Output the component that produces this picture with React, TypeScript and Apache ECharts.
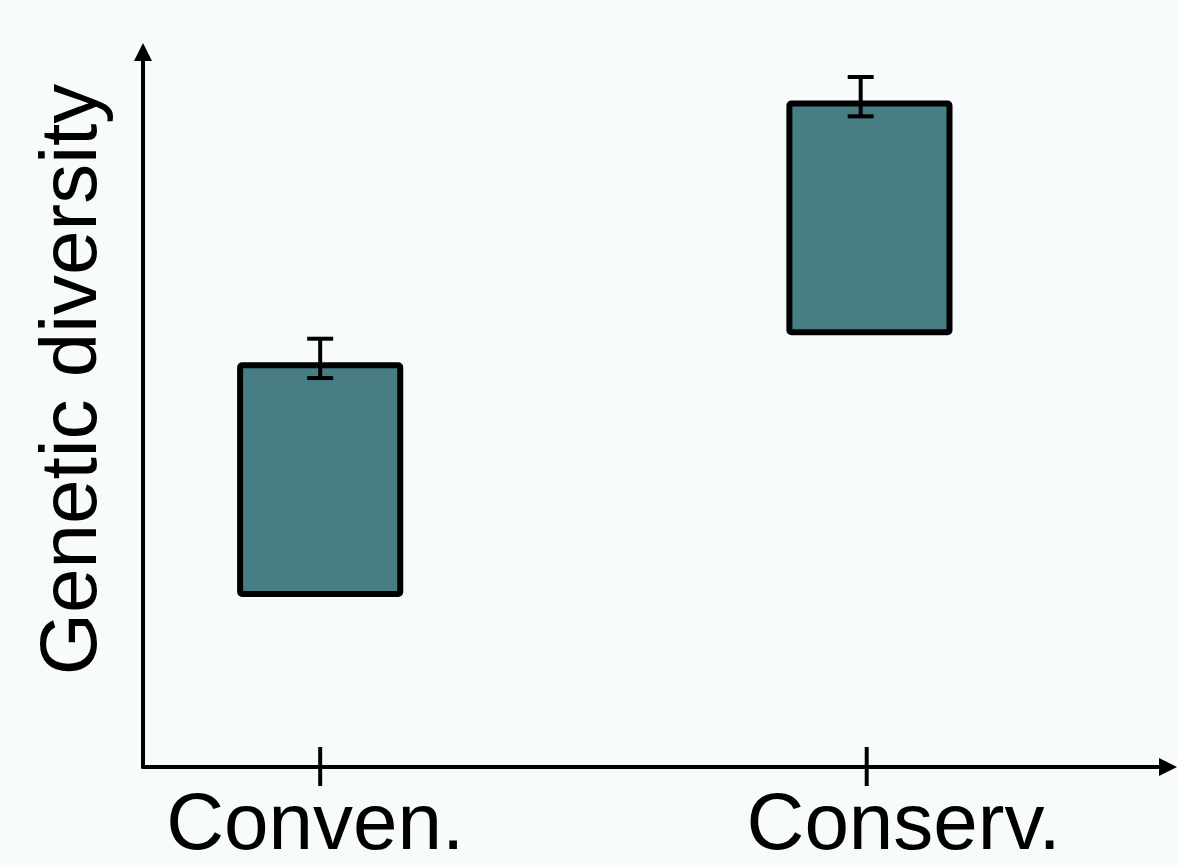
import React, { useEffect, useRef } from "react";
import * as echarts from "echarts";

const categories = ["Conven.", "Conserv."];
const tickPositions = [0, 1];
const barCenters = [0, 1.005];
const barLow = [24.2, 60.8];
const barHigh = [56.2, 92.8];
const errCenters = [0, 0.989];
const errLow = [54.4, 91.0];
const errHigh = [59.9, 96.5];

const FONT = "'Liberation Sans', Arial, Helvetica, sans-serif";

export default function App() {
  const ref = useRef<HTMLDivElement>(null);
  useEffect(() => {
    if (!ref.current) return;
    const chart = echarts.init(ref.current, null, { renderer: "svg" });
    const barData = categories.map((c, i) => [barCenters[i], barLow[i], barHigh[i], errCenters[i], errLow[i], errHigh[i]]);
    const option: any = {
      animation: false,
      backgroundColor: "#f8fbfc",
      grid: { left: 143, right: 9, top: 52, bottom: 100 },
      xAxis: {
        type: "value",
        min: -0.3242,
        max: 1.5513,
        splitLine: { show: false },
        axisLine: {
          show: true,
          onZero: false,
          lineStyle: { color: "#000", width: 4 },
          symbol: ["none", "triangle"],
          symbolSize: [18, 18],
        },
        axisTick: { show: false },
        axisLabel: {
          show: true,
          customValues: tickPositions,
          margin: 26,
          fontFamily: FONT,
          fontSize: 80,
          lineHeight: 56,
          color: "#000",
          formatter: (v: number) => {
            const i = tickPositions.indexOf(Math.round(v));
            return i === 0 ? "{a|" + categories[0] + "}" : "{b|" + categories[1] + "}";
          },
          rich: {
            a: { fontFamily: FONT, fontSize: 80, lineHeight: 56, color: "#000", padding: [0, 10, 0, 0] },
            b: { fontFamily: FONT, fontSize: 80, lineHeight: 56, color: "#000", padding: [0, 0, 0, 74] },
          },
        },
      },
      yAxis: {
        type: "value",
        min: 0,
        max: 100,
        name: "Genetic diversity",
        nameLocation: "middle",
        nameRotate: 90,
        nameGap: 35,
        nameTextStyle: { fontFamily: FONT, fontSize: 80, color: "#000", padding: [0, 0, 0, 60] },
        splitLine: { show: false },
        axisLabel: { show: false },
        axisTick: { show: false },
        axisLine: {
          show: true,
          onZero: false,
          lineStyle: { color: "#000", width: 4 },
          symbol: ["none", "triangle"],
          symbolSize: [18, 18],
        },
      },
      series: [
        {
          type: "custom",
          clip: false,
          data: barData,
          renderItem: (params: any, api: any) => {
            const xc = api.value(0);
            const p1 = api.coord([xc - 0.1465, api.value(2)]);
            const p2 = api.coord([xc + 0.1465, api.value(1)]);
            const ex = api.coord([api.value(3), api.value(5)]);
            const el = api.coord([api.value(3), api.value(4)]);
            const cap = 13;
            const lineStyle = { stroke: "#000", lineWidth: 4, fill: "none" };
            return {
              type: "group",
              children: [
                {
                  type: "rect",
                  shape: { x: p1[0], y: p1[1], width: p2[0] - p1[0], height: p2[1] - p1[1], r: 2 },
                  style: { fill: "#467e84", stroke: "#000", lineWidth: 6, lineJoin: "round" },
                },
                { type: "line", shape: { x1: ex[0], y1: ex[1], x2: el[0], y2: el[1] }, style: lineStyle },
                { type: "line", shape: { x1: ex[0] - cap, y1: ex[1], x2: ex[0] + cap, y2: ex[1] }, style: lineStyle },
                { type: "line", shape: { x1: el[0] - cap, y1: el[1], x2: el[0] + cap, y2: el[1] }, style: lineStyle },
              ],
            };
          },
        },
        {
          type: "custom",
          clip: false,
          data: tickPositions.map((t) => [t, 0]),
          renderItem: (params: any, api: any) => {
            const p = api.coord([api.value(0), api.value(1)]);
            return {
              type: "line",
              shape: { x1: p[0], y1: p[1] - 20, x2: p[0], y2: p[1] + 19 },
              style: { stroke: "#000", lineWidth: 4 },
            };
          },
        },
      ],
    };
    chart.setOption(option);
    return () => chart.dispose();
  }, []);
  return <div ref={ref} style={{ position: "absolute", left: 0, top: 0, width: 1177, height: 867 }} />;
}
